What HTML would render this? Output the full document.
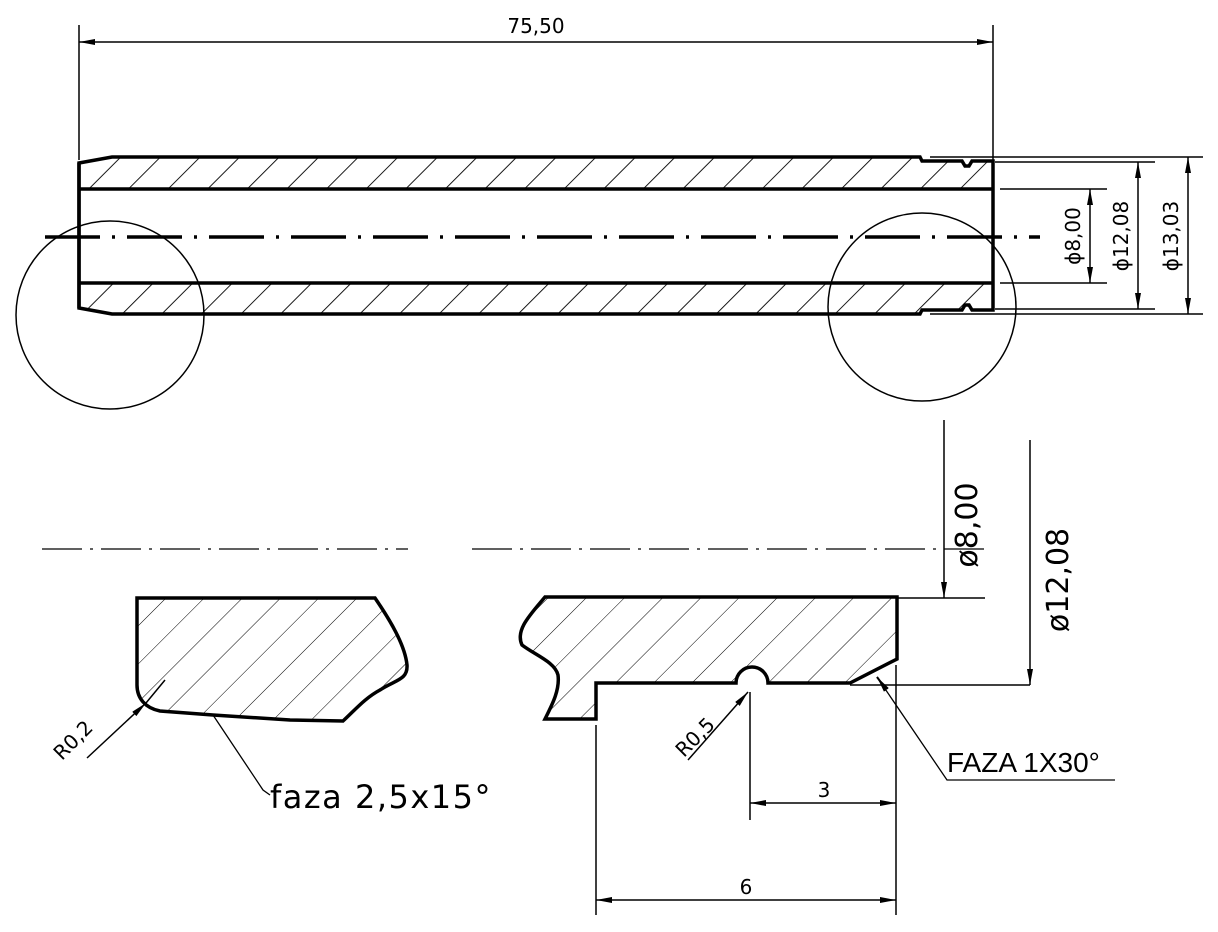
<!DOCTYPE html>
<html><head><meta charset="utf-8"><style>
html,body{margin:0;padding:0;background:#fff}
svg{display:block}
text{font-family:"DejaVu Sans","Liberation Sans",sans-serif;fill:#000}
</style></head><body>
<svg width="1218" height="932" viewBox="0 0 1218 932" xmlns="http://www.w3.org/2000/svg">
<defs>
<pattern id="h1" patternUnits="userSpaceOnUse" width="28" height="28" patternTransform="rotate(45)">
<line x1="0" y1="0" x2="0" y2="28" stroke="#000" stroke-width="1.8"/></pattern>
<pattern id="h2" patternUnits="userSpaceOnUse" width="27" height="27" patternTransform="rotate(45)">
<line x1="0" y1="0" x2="0" y2="27" stroke="#000" stroke-width="1"/></pattern>
<marker id="a" markerWidth="16" markerHeight="8" refX="16" refY="4" orient="auto" markerUnits="userSpaceOnUse">
<path d="M0,1 L16,4 L0,7 Z" fill="#000"/></marker>
<marker id="as" markerWidth="16" markerHeight="8" refX="0" refY="4" orient="auto" markerUnits="userSpaceOnUse">
<path d="M16,1 L0,4 L16,7 Z" fill="#000"/></marker>
</defs>
<g fill="none" stroke="#000">
<path d="M79,163 L112,157 L920,157 L922,161 L962,161 L965,166 L969,166 L972,161 L993,161 L993,189 L79,189 Z" fill="url(#h1)" stroke="none"/>
<path d="M79,283 L993,283 L993,310 L972,310 L969,305 L965,305 L962,310 L922,310 L920,314 L112,314 L79,308 Z" fill="url(#h1)" stroke="none"/>
<path d="M79,163 L112,157 L920,157 L922,161 L962,161 L965,166 L969,166 L972,161 L993,161 L993,310 L972,310 L969,305 L965,305 L962,310 L922,310 L920,314 L112,314 L79,308 Z" stroke-width="3.5"/>
<line x1="79" y1="189" x2="993" y2="189" stroke-width="3.5"/>
<line x1="79" y1="283" x2="993" y2="283" stroke-width="3.5"/>
<line x1="79" y1="163" x2="79" y2="308" stroke-width="3.5"/>
<line x1="45" y1="237" x2="1040" y2="237" stroke-width="3.5" stroke-dasharray="55,12,3,12"/>
<circle cx="110" cy="315" r="94" stroke-width="1.5"/>
<circle cx="922" cy="307" r="94" stroke-width="1.5"/>
<line x1="79" y1="25" x2="79" y2="160" stroke-width="1.5"/>
<line x1="993" y1="25" x2="993" y2="160" stroke-width="1.5"/>
<line x1="79" y1="42" x2="993" y2="42" stroke-width="1.5" marker-start="url(#as)" marker-end="url(#a)"/>
<line x1="1000" y1="189" x2="1107" y2="189" stroke-width="1.5"/>
<line x1="1000" y1="283" x2="1107" y2="283" stroke-width="1.5"/>
<line x1="1090" y1="189" x2="1090" y2="283" stroke-width="1.5" marker-start="url(#as)" marker-end="url(#a)"/>
<line x1="995" y1="162" x2="1155" y2="162" stroke-width="1.5"/>
<line x1="995" y1="309" x2="1155" y2="309" stroke-width="1.5"/>
<line x1="1138" y1="162" x2="1138" y2="309" stroke-width="1.5" marker-start="url(#as)" marker-end="url(#a)"/>
<line x1="930" y1="157" x2="1203" y2="157" stroke-width="1.5"/>
<line x1="930" y1="314" x2="1203" y2="314" stroke-width="1.5"/>
<line x1="1188" y1="157" x2="1188" y2="314" stroke-width="1.5" marker-start="url(#as)" marker-end="url(#a)"/>
<line x1="42" y1="549" x2="408" y2="549" stroke-width="1.3" stroke-dasharray="40,8,3,8"/>
<line x1="472" y1="549" x2="985" y2="549" stroke-width="1.3" stroke-dasharray="40,8,3,8"/>
<path d="M137,598 L375,598 C390,620 405,645 407,665 C408,680 395,680 380,690 C365,698 355,710 343,721 L290,720 L213,715 L160,711 C145,708 137,698 137,685 Z" fill="url(#h2)" stroke-width="3.5"/>
<path d="M545,597 L897,597 L897,659 L850,683 L768,683 A16,16 0 0 0 736,683 L596,683 L596,719 L545,719 C552,705 560,690 558,675 C555,662 535,655 522,645 C515,630 530,615 545,597 Z" fill="url(#h2)" stroke-width="3.5"/>
<line x1="897" y1="598" x2="985" y2="598" stroke-width="1.5"/>
<line x1="944" y1="420" x2="944" y2="598" stroke-width="1.5" marker-end="url(#a)"/>
<line x1="850" y1="685" x2="1030" y2="685" stroke-width="1.5"/>
<line x1="1030" y1="440" x2="1030" y2="685" stroke-width="1.5" marker-end="url(#a)"/>
<line x1="750" y1="692" x2="750" y2="820" stroke-width="1.5"/>
<line x1="896" y1="665" x2="896" y2="915" stroke-width="1.5"/>
<line x1="596" y1="725" x2="596" y2="915" stroke-width="1.5"/>
<line x1="750" y1="803" x2="896" y2="803" stroke-width="1.5" marker-start="url(#as)" marker-end="url(#a)"/>
<line x1="596" y1="900" x2="896" y2="900" stroke-width="1.5" marker-start="url(#as)" marker-end="url(#a)"/>
<line x1="688" y1="760" x2="748" y2="692" stroke-width="1.5" marker-end="url(#a)"/>
<line x1="87" y1="758" x2="146" y2="703" stroke-width="1.5" marker-end="url(#a)"/>
<line x1="165" y1="680" x2="146" y2="703" stroke-width="1.5"/>
<polyline points="213,715 263,790 270,795" stroke-width="1.3"/>
<polyline points="877,677 947,780 1115,780" stroke-width="1.3"/>
<line x1="877" y1="677" x2="885" y2="688" stroke-width="2" marker-start="url(#as)"/>
</g>
<text x="536" y="33" font-size="20" text-anchor="middle">75,50</text>
<text transform="translate(1080,236) rotate(-90)" font-size="20" text-anchor="middle">ϕ8,00</text>
<text transform="translate(1128,236) rotate(-90)" font-size="20" text-anchor="middle">ϕ12,08</text>
<text transform="translate(1178,236) rotate(-90)" font-size="20" text-anchor="middle">ϕ13,03</text>
<text transform="translate(977,525) rotate(-90)" font-size="30" text-anchor="middle">ø8,00</text>
<text transform="translate(1068,580) rotate(-90)" font-size="30" text-anchor="middle">ø12,08</text>
<text x="824" y="797" font-size="20" text-anchor="middle">3</text>
<text x="746" y="894" font-size="20" text-anchor="middle">6</text>
<text transform="translate(700,742) rotate(-45)" font-size="20" text-anchor="middle">R0,5</text>
<text transform="translate(78,745) rotate(-45)" font-size="20" text-anchor="middle">R0,2</text>
<text x="270" y="808" font-size="32" letter-spacing="1.5">faza 2,5x15°</text>
<text x="947" y="772" font-size="28" style="font-family:'Liberation Sans',sans-serif">FAZA 1X30°</text>
</svg>
</body></html>
